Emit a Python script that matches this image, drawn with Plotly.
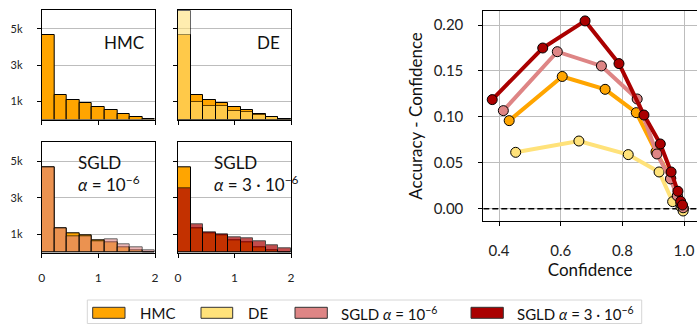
import numpy as np
import plotly.graph_objects as go

# ---------------- data ----------------
bin_edges = [0, 2/9, 4/9, 6/9, 8/9, 10/9, 12/9, 14/9, 16/9, 2]
hist_hmc = [4670, 1340, 1060, 930, 700, 550, 310, 130, 40]
hist_de = [5980, 970, 730, 730, 490, 400, 270, 130, 40]
hist_sgld1 = [4650, 1360, 920, 870, 650, 710, 450, 270, 130]
hist_sgld3 = [3500, 1540, 1120, 1020, 850, 760, 640, 400, 220]

conf_hmc = [0.433, 0.605, 0.744, 0.845, 0.909, 0.957, 0.979, 0.992, 0.998]
gap_hmc = [0.0959, 0.144, 0.130, 0.1046, 0.062, 0.033, 0.013, 0.004, 0.000]
conf_de = [0.454, 0.659, 0.819, 0.919, 0.963, 0.990, 0.997]
gap_de = [0.0614, 0.0737, 0.0589, 0.040, 0.0077, 0.002, -0.0025]
conf_sgld1 = [0.414, 0.589, 0.732, 0.848, 0.912, 0.956, 0.978, 0.990, 0.997]
gap_sgld1 = [0.1068, 0.171, 0.1555, 0.1195, 0.0596, 0.0324, 0.014, 0.005, 0.001]
conf_sgld3 = [0.378, 0.5417, 0.679, 0.789, 0.870, 0.923, 0.958, 0.980, 0.989, 0.995]
gap_sgld3 = [0.1188, 0.175, 0.2045, 0.158, 0.102, 0.0705, 0.040, 0.019, 0.008, 0.004]

names = ["HMC", "DE", "SGLD <i>α</i> = 10<sup>−6</sup>", "SGLD <i>α</i> = 3 · 10<sup>−6</sup>"]
colors = ["#FFA500", "#FFE27A", "#DE8585", "#AA0000"]
hist_alpha = [1.0, 0.6, 0.6, 0.7]
panel_labels = ["HMC", "DE", "SGLD<br><i>α</i> = 10<sup>−6</sup>", "SGLD<br><i>α</i> = 3 · 10<sup>−6</sup>"]

# ---------------- layout geometry ----------------
W, H = 697, 324
def px_x(a, b):
    return [a / W, b / W]
def px_y(top, bottom):
    return [1 - bottom / H, 1 - top / H]

hist_dom_x = [px_x(41.7, 155), px_x(178, 291)]
hist_dom_y = [px_y(10, 119.5), px_y(142.3, 252.7)]

fig = go.Figure()
centers = [(bin_edges[i] + bin_edges[i + 1]) / 2 for i in range(len(bin_edges) - 1)]
width = bin_edges[1] - bin_edges[0]

others = [hist_de, hist_sgld1, hist_sgld3]
font = "Lato, 'Open Sans', sans-serif"

for p in range(4):
    r, c = divmod(p, 2)
    ax = p + 1
    xa = "x" if ax == 1 else f"x{ax}"
    ya = "y" if ax == 1 else f"y{ax}"
    fig.add_trace(go.Bar(x=centers, y=hist_hmc, width=width, xaxis=xa, yaxis=ya,
                         marker=dict(color=colors[0], line=dict(color="black", width=1)),
                         name=names[0], showlegend=False))
    if p > 0:
        fig.add_trace(go.Bar(x=centers, y=others[p - 1], width=width, xaxis=xa, yaxis=ya,
                             marker=dict(color=colors[p], line=dict(color="black", width=1)),
                             opacity=hist_alpha[p], name=names[p], showlegend=False))
    axkw = dict(showline=True, linecolor="black", linewidth=1, mirror=True,
                ticks="outside", ticklen=4, tickcolor="black", automargin=False)
    fig.layout[f"xaxis{'' if ax == 1 else ax}"] = dict(
        domain=hist_dom_x[c], anchor=ya, range=[0, 2], tickvals=[0, 1, 2],
        showticklabels=(r == 1), showgrid=False, zeroline=False,
        tickfont=dict(size=12, color="#222"), ticklabelstandoff=10, **axkw)
    fig.layout[f"yaxis{'' if ax == 1 else ax}"] = dict(
        domain=hist_dom_y[r], anchor=xa, range=[0, 6030], tickvals=[1000, 3000, 5000],
        ticktext=["1k", "3k", "5k"], showticklabels=(c == 0), showgrid=True,
        gridcolor="#bdbdbd", gridwidth=1, zeroline=False,
        tickfont=dict(size=11, color="#222"), ticklabelstandoff=12, **axkw)
    if r == 0:
        fig.add_annotation(xref=f"{xa} domain", yref=f"{ya} domain", x=0.92, y=0.7,
                           text=panel_labels[p], showarrow=False, xanchor="right",
                           yanchor="middle", font=dict(size=17, color="#111"))
    else:
        fig.add_annotation(xref=f"{xa} domain", yref=f"{ya} domain", x=0.3, y=0.93,
                           text=panel_labels[p], showarrow=False, xanchor="left",
                           yanchor="top", align="left", font=dict(size=17, color="#111"))

# ---------------- calibration plot ----------------
fig.add_trace(go.Scatter(x=[0.349, 1.042], y=[0, 0], xaxis="x5", yaxis="y5", mode="lines",
                         line=dict(color="black", width=1.6, dash="6px,3px"),
                         showlegend=False, hoverinfo="skip"))
series = [(conf_hmc, gap_hmc), (conf_de, gap_de), (conf_sgld1, gap_sgld1), (conf_sgld3, gap_sgld3)]
for i, (cx, gy) in enumerate(series):
    fig.add_trace(go.Scatter(x=cx, y=gy, xaxis="x5", yaxis="y5", mode="lines+markers",
                             line=dict(color=colors[i], width=4),
                             marker=dict(size=10, color=colors[i], line=dict(color="black", width=1)),
                             showlegend=False, name=names[i]))

fig.update_layout(
    xaxis5=dict(domain=px_x(483.3, 697), anchor="y5", range=[0.349, 1.042],
                tickvals=[0.4, 0.6, 0.8, 1.0], ticktext=["0.4", "0.6", "0.8", "1.0"],
                showgrid=True, gridcolor="#bdbdbd", gridwidth=1.2, zeroline=False,
                showline=True, linecolor="black", linewidth=1, mirror=True,
                ticks="outside", ticklen=4, tickcolor="black", ticklabelstandoff=12,
                tickfont=dict(size=15, color="#222"), automargin=False,
                title=dict(text="Confidence", font=dict(size=17, color="#111"), standoff=2)),
    yaxis5=dict(domain=px_y(11, 221), anchor="x5", range=[-0.0134, 0.2153],
                tickvals=[0, 0.05, 0.1, 0.15, 0.2],
                ticktext=["0.00", "0.05", "0.10", "0.15", "0.20"],
                showgrid=True, gridcolor="#bdbdbd", gridwidth=1.2, zeroline=False,
                showline=True, linecolor="black", linewidth=1, mirror=True,
                ticks="outside", ticklen=4, tickcolor="black", ticklabelstandoff=12,
                tickfont=dict(size=15, color="#222"), automargin=False,
                title=dict(text="Accuracy - Confidence", font=dict(size=17, color="#111"), standoff=6)),
)

# ---------------- legend (drawn as patches + labels) ----------------
leg_patch_x = [(92.7, 125), (201, 232.7), (295, 327.3), (471, 503.3)]
leg_text_x = [138.3, 245.7, 339.3, 515]
leg_y_top, leg_y_bot = 307.3, 318.3
fig.add_shape(type="rect", xref="paper", yref="paper",
              x0=87.3 / W, x1=641.7 / W, y0=1 - 323.5 / H, y1=1 - 300 / H,
              line=dict(color="#d6d6d6", width=1), fillcolor="white", layer="above")
for i in range(4):
    a, b = leg_patch_x[i]
    fig.add_shape(type="rect", xref="paper", yref="paper",
                  x0=a / W, x1=b / W, y0=1 - leg_y_bot / H, y1=1 - leg_y_top / H,
                  line=dict(color="#333", width=1), fillcolor=colors[i], layer="above")
    fig.add_annotation(xref="paper", yref="paper", x=leg_text_x[i] / W, y=1 - 313 / H,
                       text=names[i], showarrow=False, xanchor="left", yanchor="middle",
                       font=dict(size=15, color="#111"))

fig.update_layout(
    width=W, height=H, margin=dict(l=0, r=0, t=0, b=0),
    paper_bgcolor="white", plot_bgcolor="white",
    barmode="overlay", bargap=0, showlegend=False,
    font=dict(family=font, color="#111"),
)

fig.write_html("out.html", config={"displayModeBar": False},
               post_script="document.body.style.margin='0';document.body.style.overflow='hidden';")
